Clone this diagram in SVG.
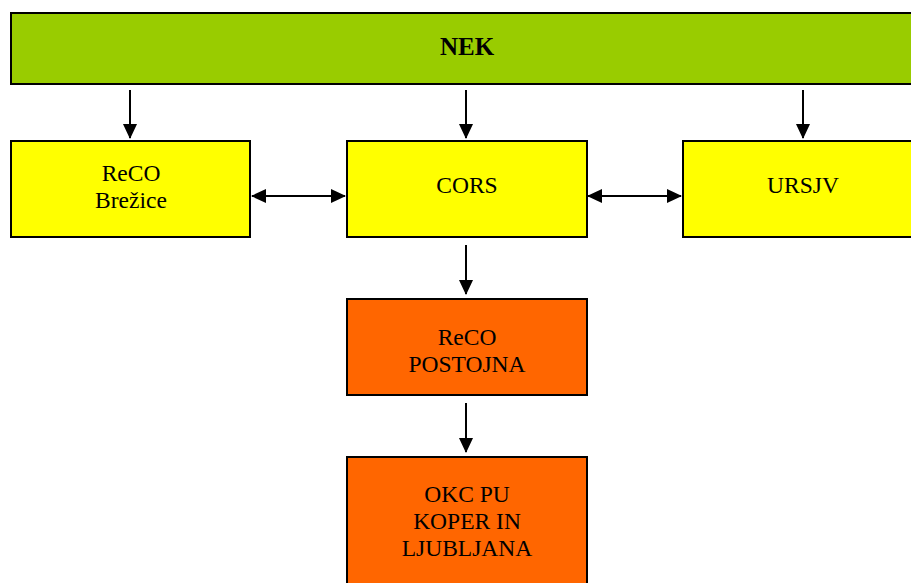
<svg xmlns="http://www.w3.org/2000/svg" width="911" height="583" viewBox="0 0 911 583">
<defs>
<style>
.box{stroke:#000;stroke-width:2}
.g{fill:#99cc00}.y{fill:#ffff00}.o{fill:#ff6600}
text{font-family:"Liberation Serif","Times New Roman",serif;font-size:23.5px;fill:#000;text-anchor:middle}
.b{font-weight:bold;font-size:25px}
.c{stroke:#000;stroke-width:2;fill:none}
</style>
<marker id="a" markerWidth="16" markerHeight="16" refX="14" refY="8" orient="auto-start-reverse" markerUnits="userSpaceOnUse"><path d="M0,1 L15,8 L0,15 Z" fill="#000"/></marker>
</defs>
<rect width="911" height="583" fill="#fff"/>
<g id="nek"><rect class="box g" x="11" y="13" width="910" height="71"/><text class="b" x="467" y="55">NEK</text></g>
<g id="reco-brezice"><rect class="box y" x="11" y="141" width="239" height="96"/><text x="131" y="181">ReCO</text><text x="131" y="208">Brežice</text></g>
<g id="cors"><rect class="box y" x="347" y="141" width="240" height="96"/><text x="467" y="193">CORS</text></g>
<g id="ursjv"><rect class="box y" x="683" y="141" width="240" height="96"/><text x="803" y="193">URSJV</text></g>
<g id="reco-postojna"><rect class="box o" x="347" y="299" width="240" height="96"/><text x="467" y="345">ReCO</text><text x="467" y="372">POSTOJNA</text></g>
<g id="okc"><rect class="box o" x="347" y="457" width="240" height="140"/><text x="467" y="502">OKC PU</text><text x="467" y="529">KOPER IN</text><text x="467" y="556">LJUBLJANA</text></g>
<g id="connectors">
<line class="c" x1="130" y1="90" x2="130" y2="138" marker-end="url(#a)"/>
<line class="c" x1="466" y1="90" x2="466" y2="138" marker-end="url(#a)"/>
<line class="c" x1="803" y1="90" x2="803" y2="138" marker-end="url(#a)"/>
<line class="c" x1="252" y1="196" x2="345" y2="196" marker-start="url(#a)" marker-end="url(#a)"/>
<line class="c" x1="588" y1="196" x2="681" y2="196" marker-start="url(#a)" marker-end="url(#a)"/>
<line class="c" x1="466" y1="245" x2="466" y2="294" marker-end="url(#a)"/>
<line class="c" x1="466" y1="403" x2="466" y2="452" marker-end="url(#a)"/>
</g>
</svg>
